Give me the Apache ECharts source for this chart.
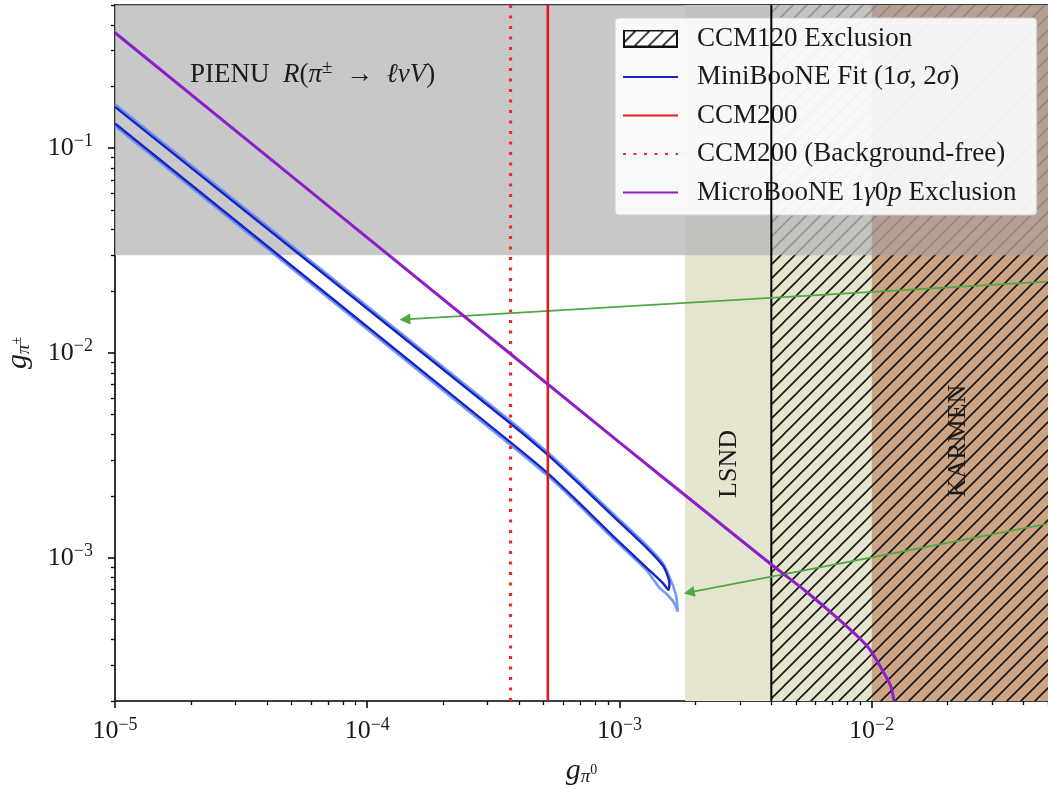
<!DOCTYPE html>
<html><head><meta charset="utf-8">
<script src="https://cdn.jsdelivr.net/npm/echarts@6/dist/echarts.min.js"></script>
<style>html,body{margin:0;padding:0;background:#fff}#c{width:1048px;height:789px}</style>
</head><body><div id="c"></div>
<script>
// ---------- data ----------
const X_RANGE = [1e-5, 0.05];
const Y_RANGE = [2e-4, 0.5];
const xMajorTicks = [1e-5, 1e-4, 1e-3, 1e-2];
const yMajorTicks = [1e-3, 1e-2, 1e-1];
const xMinorTicks = [2e-5,3e-5,4e-5,5e-5,6e-5,7e-5,8e-5,9e-5,2e-4,3e-4,4e-4,5e-4,6e-4,7e-4,8e-4,9e-4,2e-3,3e-3,4e-3,5e-3,6e-3,7e-3,8e-3,9e-3,2e-2,3e-2,4e-2,5e-2];
const yMinorTicks = [2e-4,3e-4,4e-4,5e-4,6e-4,7e-4,8e-4,9e-4,2e-3,3e-3,4e-3,5e-3,6e-3,7e-3,8e-3,9e-3,2e-2,3e-2,4e-2,5e-2,6e-2,7e-2,8e-2,9e-2,2e-1,3e-1,4e-1,5e-1];

const pienuRegion = [1e-5, 0.05, 0.03, 0.5];      // x0,x1,y0,y1
const lsndRegion = [1.82e-3, 1e-2, 2e-4, 0.5];
const karmenRegion = [1e-2, 0.05, 2e-4, 0.5];
const ccm120Region = [4e-3, 0.05, 2e-4, 0.5];
const ccm200X = 5.2e-4;
const ccm200BgFreeX = 3.7e-4;

const microBooNE = [[1e-5,0.366],[1e-4,0.0366],[1e-3,3.66e-3],[2.07e-3,1.78e-3],[3.99e-3,9.3e-4],
  [5.48e-3,6.87e-4],[7.43e-3,4.99e-4],[9.62e-3,3.69e-4],[1.1e-2,2.84e-4],[1.19e-2,2.36e-4],[1.225e-2,2.0e-4]];

const miniBooNE1sigma = [[1e-5,0.159],[3.68e-4,4.555e-3],[5.2e-4,3.18e-3],[6.99e-4,2.27e-3],[9.41e-4,1.603e-3],
  [1.276e-3,1.125e-3],[1.484e-3,9.19e-4],[1.545e-3,8.3e-4],[1.578e-3,7.51e-4],[1.563e-3,6.98e-4],
  [1.484e-3,7.55e-4],[1.276e-3,8.99e-4],[9.41e-4,1.28e-3],[6.99e-4,1.834e-3],[5.2e-4,2.584e-3],[3.68e-4,3.68e-3],[1e-5,0.132]];

const miniBooNE2sigma = [[1e-5,0.1636],[3.68e-4,4.685e-3],[5.2e-4,3.27e-3],[6.99e-4,2.335e-3],[9.41e-4,1.649e-3],
  [1.276e-3,1.157e-3],[1.484e-3,9.45e-4],[1.607e-3,7.64e-4],[1.681e-3,6.45e-4],[1.703e-3,5.47e-4],
  [1.636e-3,6.10e-4],[1.535e-3,6.68e-4],[1.44e-3,7.14e-4],[1.276e-3,8.74e-4],[9.41e-4,1.245e-3],
  [6.99e-4,1.783e-3],[5.2e-4,2.512e-3],[3.68e-4,3.58e-3],[1e-5,0.1283]];

const arrow1 = [[0.0495, 0.0223], [1.41e-4, 0.0146]];
const arrow2 = [[0.0495, 1.465e-3], [1.89e-3, 6.78e-4]];

const legendNames = ['CCM120 Exclusion','MiniBooNE Fit (1σ, 2σ)','CCM200','CCM200 (Background-free)','MicroBooNE 1γ0p Exclusion'];

// ---------- styles ----------
const SERIF = "'Liberation Serif', 'DejaVu Serif', serif";
const TXT = '#1a1a1a';

function makeHatch(w, h, bg, border) {
  const c = document.createElement('canvas');
  c.width = w; c.height = h;
  const g = c.getContext('2d');
  if (bg) { g.fillStyle = bg; g.fillRect(0,0,w,h); }
  g.strokeStyle = '#111'; g.lineWidth = 1.6;
  const s = 14;
  g.beginPath();
  for (let k = -h; k < w + h; k += s) { g.moveTo(k, h); g.lineTo(k + h, 0); }
  g.stroke();
  if (border) { g.lineWidth = 2; g.strokeRect(1,1,w-2,h-2); }
  return c;
}
function makeTile() {
  const s = 14, c = document.createElement('canvas');
  c.width = s; c.height = s;
  const g = c.getContext('2d');
  g.strokeStyle = '#151515'; g.lineWidth = 1.6;
  g.beginPath();
  g.moveTo(-2, s + 2); g.lineTo(s + 2, -2);
  g.moveTo(-2, 2); g.lineTo(2, -2);
  g.moveTo(s - 2, s + 2); g.lineTo(s + 2, s - 2);
  g.stroke();
  return c;
}
const hatchTile = makeTile();
const hatchIcon = 'image://' + makeHatch(55, 18, '#ffffff', true).toDataURL();

function rectSeries(name, region, fill, z) {
  return {
    type: 'custom', name: name, z: z, silent: true, animation: false,
    encode: {x: [0, 1], y: [2, 3]},
    data: [region],
    renderItem: function (params, api) {
      const p0 = api.coord([api.value(0), api.value(2)]);
      const p1 = api.coord([api.value(1), api.value(3)]);
      return {type: 'rect',
        shape: {x: Math.min(p0[0], p1[0]), y: Math.min(p0[1], p1[1]),
                width: Math.abs(p1[0] - p0[0]), height: Math.abs(p1[1] - p0[1])},
        style: {fill: fill}};
    }
  };
}
function vline(name, x, color, width, type, z) {
  return {type: 'line', name: name, z: z, silent: true, animation: false, symbol: 'none',
    data: [[x, Y_RANGE[0]], [x, Y_RANGE[1]]],
    lineStyle: {color: color, width: width, type: type, cap: 'butt'}, itemStyle: {color: color}};
}
function expLabel(v) {
  const e = Math.round(Math.log10(v));
  return '{b|10}{s|' + (e < 0 ? '\u2212' : '') + Math.abs(e) + '}';
}
const tickRich = {
  b: {fontFamily: SERIF, fontSize: 26, color: TXT},
  s: {fontFamily: SERIF, fontSize: 18, color: TXT, padding: [0, 0, 13, 0]}
};
const axisLineStyle = {color: '#000', width: 1.6};

const legendRich = {
  r: {fontFamily: SERIF, fontSize: 27, color: TXT},
  i: {fontFamily: SERIF, fontSize: 27, color: TXT, fontStyle: 'italic'}
};
const legendFmt = {
  'CCM120 Exclusion': '{r|CCM120 Exclusion}',
  'MiniBooNE Fit (1σ, 2σ)': '{r|MiniBooNE Fit (1}{i|σ}{r|, 2}{i|σ}{r|)}',
  'CCM200': '{r|CCM200}',
  'CCM200 (Background-free)': '{r|CCM200 (Background-free)}',
  'MicroBooNE 1γ0p Exclusion': '{r|MicroBooNE 1}{i|γ}{r|0}{i|p}{r| Exclusion}'
};
const hideSym = {opacity: 0};

const nameRich = {
  g: {fontFamily: SERIF, fontSize: 30, fontStyle: 'italic', color: TXT},
  p: {fontFamily: SERIF, fontSize: 19, fontStyle: 'italic', color: TXT, padding: [11, 0, 0, 0]},
  z: {fontFamily: SERIF, fontSize: 14, color: TXT, padding: [0, 0, 2, 0]}
};

const chart = echarts.init(document.getElementById('c'));
chart.setOption({
  animation: false,
  backgroundColor: '#ffffff',
  grid: {left: 115, right: 0, top: 5, bottom: 88, containLabel: false, outerBoundsMode: 'none'},
  xAxis: [
    {type: 'log', min: X_RANGE[0], max: X_RANGE[1], position: 'bottom',
     axisLine: {show: true, lineStyle: axisLineStyle},
     axisTick: {show: true, length: 7, lineStyle: {color: '#000', width: 1.5}, customValues: xMajorTicks},
     axisLabel: {show: true, customValues: xMajorTicks, formatter: expLabel, margin: 15, rich: tickRich},
     splitLine: {show: false}, minorTick: {show: false},
     name: '{g|g}{p|π}{z|0}', nameLocation: 'middle', nameGap: 55, nameTextStyle: {rich: nameRich}},
    {type: 'log', min: X_RANGE[0], max: X_RANGE[1], position: 'bottom',
     axisLine: {show: false},
     axisTick: {show: true, length: 4, lineStyle: {color: '#000', width: 1.3}, customValues: xMinorTicks},
     axisLabel: {show: false}, splitLine: {show: false}},
    {type: 'log', min: X_RANGE[0], max: X_RANGE[1], position: 'top',
     axisLine: {show: true, lineStyle: axisLineStyle}, axisTick: {show: false}, axisLabel: {show: false}, splitLine: {show: false}}
  ],
  yAxis: [
    {type: 'log', min: Y_RANGE[0], max: Y_RANGE[1], position: 'left',
     axisLine: {show: true, lineStyle: axisLineStyle},
     axisTick: {show: true, length: 7, lineStyle: {color: '#000', width: 1.5}, customValues: yMajorTicks},
     axisLabel: {show: true, customValues: yMajorTicks, formatter: expLabel, margin: 22, rich: tickRich},
     splitLine: {show: false},
     name: '{g|g}{p|π}{z|±}', nameLocation: 'middle', nameRotate: 90, nameGap: 82, nameTextStyle: {rich: nameRich}},
    {type: 'log', min: Y_RANGE[0], max: Y_RANGE[1], position: 'left',
     axisLine: {show: false},
     axisTick: {show: true, length: 4, lineStyle: {color: '#000', width: 1.3}, customValues: yMinorTicks},
     axisLabel: {show: false}, splitLine: {show: false}}
  ],
  legend: {
    orient: 'vertical', left: 615, top: 18,
    padding: [7, 20, 9, 7],
    itemWidth: 55, itemHeight: 18, itemGap: 11.5,
    backgroundColor: 'rgba(255,255,255,0.88)', borderColor: '#cfcfcf', borderWidth: 1.2, borderRadius: 4,
    selectedMode: false,
    data: [{name: legendNames[0], icon: hatchIcon},
           {name: legendNames[1], itemStyle: hideSym},
           {name: legendNames[2], itemStyle: hideSym},
           {name: legendNames[3], itemStyle: hideSym},
           {name: legendNames[4], itemStyle: hideSym}],
    formatter: function (n) { return legendFmt[n]; },
    textStyle: {fontFamily: SERIF, fontSize: 27, color: TXT, padding: [0, 0, 0, 14], rich: legendRich}
  },
  graphic: [
    {type: 'text', left: 190, top: 59, z: 50, silent: true,
     style: {text: '{r|PIENU  }{i|R}{r|(}{i|π}{s|±}{r|  →  }{i|ℓνV}{r|)}',
       rich: {r: {fontFamily: SERIF, fontSize: 27, fill: TXT},
              i: {fontFamily: SERIF, fontSize: 27, fontStyle: 'italic', fill: TXT},
              s: {fontFamily: SERIF, fontSize: 19, fill: TXT, padding: [0, 0, 12, 0]}}}},
    {type: 'text', x: 729, y: 464, rotation: Math.PI / 2, z: 50, silent: true,
     style: {text: 'LSND', fontFamily: SERIF, fontSize: 26, fill: TXT, align: 'center', verticalAlign: 'middle'}},
    {type: 'text', x: 958, y: 441, rotation: Math.PI / 2, z: 50, silent: true,
     style: {text: 'KARMEN', fontFamily: SERIF, fontSize: 26, fill: TXT, align: 'center', verticalAlign: 'middle'}}
  ],
  series: [
    rectSeries('LSND', lsndRegion, '#e5e5cf', 1),
    rectSeries('KARMEN', karmenRegion, '#cda585', 1),
    rectSeries('CCM120 Exclusion', ccm120Region, {image: hatchTile, repeat: 'repeat'}, 2),
    rectSeries('PIENU', pienuRegion, 'rgba(185,185,185,0.78)', 3),
    rectSeries('KARMEN tint', [karmenRegion[0], karmenRegion[1], pienuRegion[2], pienuRegion[3]], 'rgba(150,90,60,0.22)', 3),
    vline('CCM120 edge', ccm120Region[0], '#000', 2, 'solid', 4),
    {type: 'line', name: 'MiniBooNE 2σ', z: 5, silent: true, symbol: 'none', smooth: 0.2,
     data: miniBooNE2sigma, lineStyle: {color: 'rgba(90,140,235,0.85)', width: 2.6}, itemStyle: {color: '#5a8ceb'}},
    {type: 'line', name: 'MiniBooNE Fit (1σ, 2σ)', z: 6, silent: true, symbol: 'none', smooth: 0.2,
     data: miniBooNE1sigma, lineStyle: {color: '#1a23c8', width: 2.4}, itemStyle: {color: '#1a23c8'}},
    vline('CCM200', ccm200X, '#e01b1b', 2.6, 'solid', 7),
    vline('CCM200 (Background-free)', ccm200BgFreeX, '#f02a2a', 3.2, [3, 7.5], 7),
    {type: 'line', name: 'MicroBooNE 1γ0p Exclusion', z: 8, silent: true, symbol: 'none', smooth: 0.3,
     data: microBooNE, lineStyle: {color: '#8d1ec8', width: 3}, itemStyle: {color: '#8d1ec8'},
     markLine: {silent: true, symbol: ['none', 'triangle'], symbolSize: 11, label: {show: false},
       lineStyle: {color: '#4ea843', width: 1.6, type: 'solid'},
       itemStyle: {color: '#4ea843'},
       emphasis: {disabled: true},
       data: [
         [{coord: arrow1[0]}, {coord: arrow1[1]}],
         [{coord: arrow2[0]}, {coord: arrow2[1]}]
       ]}}
  ]
});
</script>
</body></html>
